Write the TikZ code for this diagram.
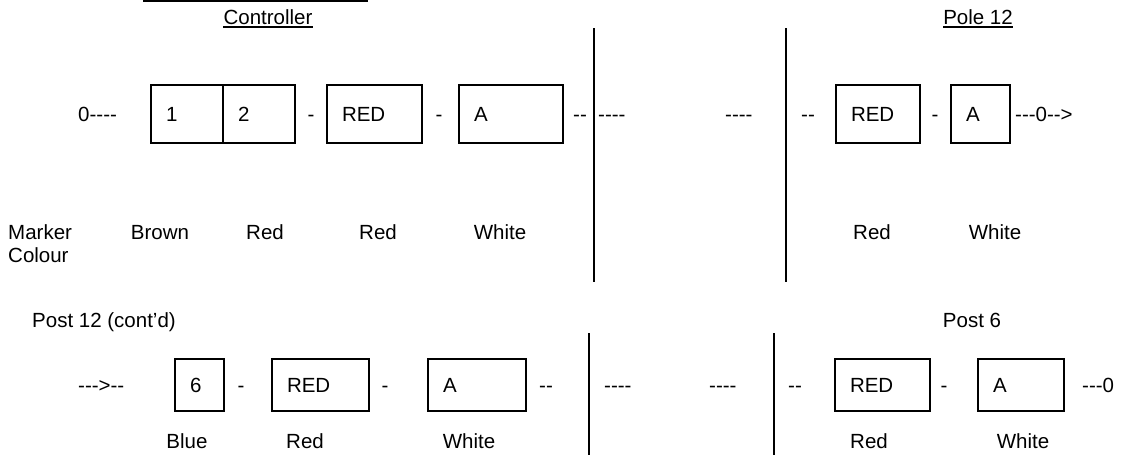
\documentclass[tikz,border=0pt]{standalone}
\usepackage{fontspec}
\setmainfont{Liberation Sans}[Ligatures=TeXOff]
\begin{document}
\begin{tikzpicture}[x=1pt,y=-1pt,
  every node/.style={font=\fontsize{20.5}{23}\selectfont, inner sep=0pt},
  bx/.style={draw, line width=2pt, anchor=west, inner xsep=15pt, inner ysep=0pt, align=left, minimum height=58pt},
  bxs/.style={bx, minimum height=52pt},
  lbl/.style={anchor=base},
  txt/.style={anchor=base west},
  vline/.style={line width=2pt},
  uline/.style={line width=1.5pt}]
\useasboundingbox (0,0) rectangle (1123,455);

% clipped underline at top
\coordinate (tl) at (143,1);
\coordinate (tr) at (368,1);
\draw[line width=2pt] (tl) -- (tr);

% headings
\node[lbl] (ctl) at (268,24) {Controller};
\draw[uline] ([yshift=-2.5pt]ctl.south west) -- ([yshift=-2.5pt]ctl.south east);
\node[lbl] (pole) at (978,24) {Pole 12};
\draw[uline] ([yshift=-2.5pt]pole.south west) -- ([yshift=-2.5pt]pole.south east);

% vertical separators
\coordinate (v1t) at (594,28); \coordinate (v1b) at (594,282);
\coordinate (v2t) at (786,28); \coordinate (v2b) at (786,282);
\draw[vline] (v1t) -- (v1b);
\draw[vline] (v2t) -- (v2b);
\coordinate (v3t) at (589,333); \coordinate (v3b) at (589,455);
\coordinate (v4t) at (774,333); \coordinate (v4b) at (774,455);
\draw[vline] (v3t) -- (v3b);
\draw[vline] (v4t) -- (v4b);

% top row
\node[txt] (t0) at (78,121) {0----};
\node[bx, text width=42pt] (b1) at (150,114) {1};
\node[bx, text width=42pt] (b2) at (222,114) {2};
\node[lbl] (d1) at (311,121) {-};
\node[bx, text width=65pt] (r1) at (326,114) {RED};
\node[lbl] (d2) at (439,121) {-};
\node[bx, text width=74pt] (a1) at (458,114) {A};
\node[lbl] (d3) at (580,121) {--};
\node[txt] (d4) at (598,121) {----};
\node[txt] (d5) at (725,121) {----};
\node[lbl] (d6) at (808,121) {--};
\node[bx, text width=54pt] (r2) at (835,114) {RED};
\node[lbl] (d7) at (935,121) {-};
\node[bx, text width=29pt] (a2) at (950,114) {A};
\node[txt] (tend) at (1015,121) {---0-->};

% colour row
\node[txt, align=left] (mk) at (8,262) {Marker\\Colour};
\node[lbl] (c1) at (160,239) {Brown};
\node[lbl] (c2) at (265,239) {Red};
\node[lbl] (c3) at (378,239) {Red};
\node[lbl] (c4) at (500,239) {White};
\node[lbl] (c5) at (872,239) {Red};
\node[lbl] (c6) at (995,239) {White};

% post labels
\node[txt] (p12) at (32,327) {Post 12 (cont’d)};
\node[lbl] (p6) at (972,327) {Post 6};

% bottom row
\node[txt] (s0) at (78,392) {--->--};
\node[bxs, text width=19pt] (b6) at (174,385) {6};
\node[lbl] (e1) at (241,392) {-};
\node[bxs, text width=67pt] (r3) at (271,385) {RED};
\node[lbl] (e2) at (385,392) {-};
\node[bxs, text width=68pt] (a3) at (427,385) {A};
\node[lbl] (e3) at (546,392) {--};
\node[txt] (e4) at (604,392) {----};
\node[txt] (e5) at (709,392) {----};
\node[lbl] (e6) at (795,392) {--};
\node[bxs, text width=65pt] (r4) at (834,385) {RED};
\node[lbl] (e7) at (944,392) {-};
\node[bxs, text width=56pt] (a4) at (977,385) {A};
\node[txt] (send) at (1082,392) {---0};

% bottom colour labels
\node[lbl] (f1) at (187,448) {Blue};
\node[lbl] (f2) at (305,448) {Red};
\node[lbl] (f3) at (469,448) {White};
\node[lbl] (f4) at (869,448) {Red};
\node[lbl] (f5) at (1023,448) {White};
\end{tikzpicture}
\end{document}
